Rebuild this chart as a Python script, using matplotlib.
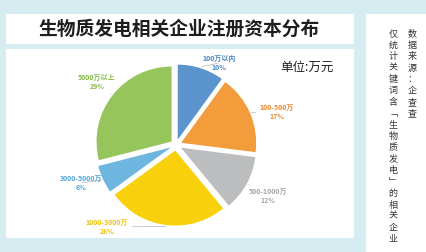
import numpy as np
import matplotlib
matplotlib.use('Agg')
import matplotlib.pyplot as plt
from matplotlib.patches import Rectangle

plt.rcParams['font.family'] = ['Noto Sans CJK SC', 'DejaVu Sans']

# data
categories = ['100万以内', '100-500万', '500-1000万', '1000-3000万', '3000-5000万', '5000万以上']
shares = [10, 17, 12, 26, 6, 29]
colors = ['#5b93cc', '#f39c3b', '#bbbdbf', '#f8d10c', '#6cb6e0', '#95c55b']
label_colors = ['#4a86c5', '#ee8a2e', '#a3a5a7', '#f0c20a', '#4fa6d8', '#86bb4a']
# label centres in pixels (x, y from top)
label_pos = [(219, 63), (277, 112), (268, 196), (107, 227), (81, 183), (97, 82)]

title = '生物质发电相关企业注册资本分布'
unit = '单位:万元'
note_col1 = '数据来源：企查查'
note_col2 = '仅统计关键词含﹁生物质发电﹂的相关企业'

W, H = 427, 252
fig = plt.figure(figsize=(W / 100, H / 100), dpi=100)
fig.patch.set_facecolor('#d5edf1')


def fx(px):
    return px / W


def fy(py):
    return 1 - py / H


def box(x0, y0, x1, y1):
    fig.patches.append(Rectangle((fx(x0), fy(y1)), fx(x1) - fx(x0), fy(y0) - fy(y1),
                                 transform=fig.transFigure, facecolor='white',
                                 edgecolor='none', zorder=-1))


box(6, 14, 354, 44)
box(6, 49, 354, 238)
box(366, 14, 427, 252)

fig.text(fx(179), fy(29), title, ha='center', va='center', fontsize=13.5,
         fontweight='bold', color='#1e1e1e')
fig.text(fx(307), fy(67), unit, ha='center', va='center', fontsize=9,
         color='#1e1e1e')

# pie axes: centre (176,145) px, radius 75 px
cx, cy, R, half = 176, 145, 75, 110
ax = fig.add_axes([fx(cx - half), fy(cy + half), 2 * half / W, 2 * half / H])

explode = 0.075
wedges, _ = ax.pie(shares, colors=colors, startangle=90, counterclock=False,
                   explode=[explode] * len(shares), radius=1,
                   wedgeprops=dict(linewidth=0))
ax.set_xlim(-half / R, half / R)
ax.set_ylim(-half / R, half / R)
ax.axis('off')

inv = ax.transData.inverted()
for w, cat, s, lc, (px, py) in zip(wedges, categories, shares, label_colors, label_pos):
    mid = np.deg2rad((w.theta1 + w.theta2) / 2)
    ex, ey = w.center
    xy = (ex + 1.02 * np.cos(mid), ey + 1.02 * np.sin(mid))
    txt = inv.transform(fig.transFigure.transform((fx(px), fy(py))))
    ax.annotate(f'{cat}\n{s}%', xy=xy, xytext=txt, ha='center', va='center',
                fontsize=5.0, fontweight='bold', color=lc, linespacing=1.45,
                arrowprops=dict(arrowstyle='-', color='#b5b5b5', lw=0.5,
                                shrinkA=1, shrinkB=0))

# vertical notes
step = 11.4
for i, ch in enumerate(note_col1):
    fig.text(fx(412), fy(34 + i * step), ch, ha='center', va='center',
             fontsize=6.5, color='#333333')
for i, ch in enumerate(note_col2):
    fig.text(fx(393), fy(34 + i * step), ch, ha='center', va='center',
             fontsize=6.5, color='#333333')

fig.savefig('out.png', dpi=100, facecolor=fig.get_facecolor())
